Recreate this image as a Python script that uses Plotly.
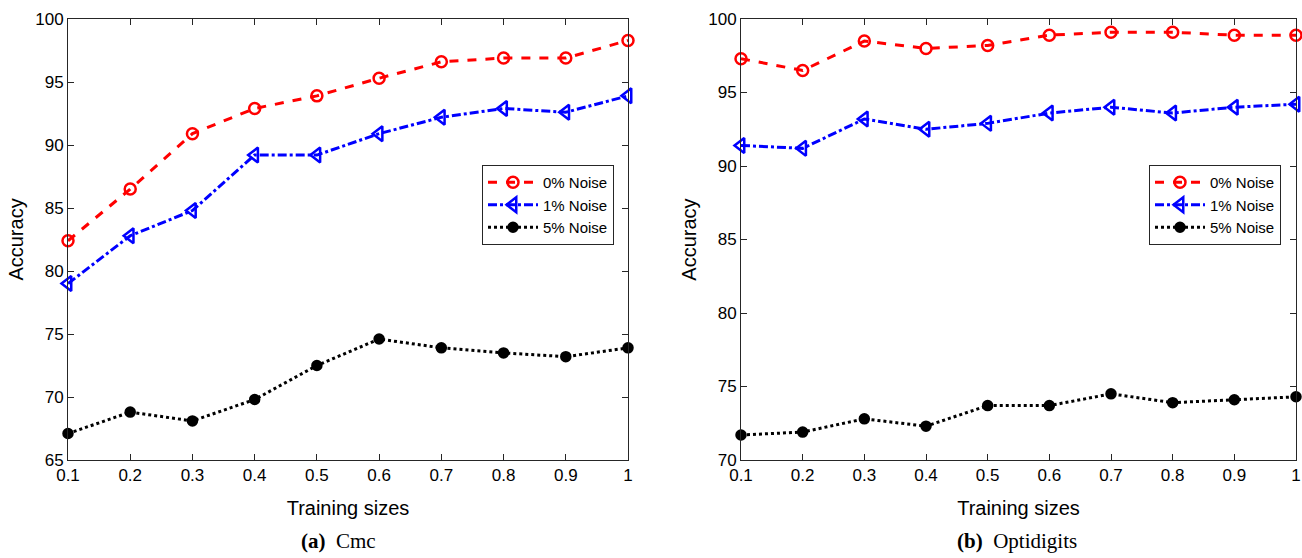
import plotly.graph_objects as go

sizes = [0.1, 0.2, 0.3, 0.4, 0.5, 0.6, 0.7, 0.8, 0.9, 1.0]
x_ticktext = ["0.1", "0.2", "0.3", "0.4", "0.5", "0.6", "0.7", "0.8", "0.9", "1"]
series_names = ["0% Noise", "1% Noise", "5% Noise"]

cmc_0 = [82.4, 86.5, 90.9, 92.9, 93.9, 95.3, 96.6, 96.9, 96.9, 98.3]
cmc_1 = [79.0, 82.8, 84.8, 89.2, 89.2, 90.9, 92.2, 92.9, 92.6, 93.9]
cmc_5 = [67.1, 68.8, 68.1, 69.8, 72.5, 74.6, 73.9, 73.5, 73.2, 73.9]

opt_0 = [97.3, 96.5, 98.5, 98.0, 98.2, 98.9, 99.1, 99.1, 98.9, 98.9]
opt_1 = [91.4, 91.2, 93.2, 92.5, 92.9, 93.6, 94.0, 93.6, 94.0, 94.2]
opt_5 = [71.7, 71.9, 72.8, 72.3, 73.7, 73.7, 74.5, 73.9, 74.1, 74.3]

styles = [
    dict(color="#ff0000", dash="dash", symbol="circle-open", size=11),
    dict(color="#0000ff", dash="dashdot", symbol="triangle-left-open", size=13),
    dict(color="#000000", dash="dot", symbol="circle", size=9),
]

fig = go.Figure()

def add(series, xa, ya, legend):
    for name, vals, st in zip(series_names, series, styles):
        fig.add_trace(go.Scatter(
            x=sizes, y=vals, name=name, mode="lines+markers",
            xaxis=xa, yaxis=ya, legend=legend, cliponaxis=False,
            line=dict(color=st["color"], dash=st["dash"], width=3),
            marker=dict(symbol=st["symbol"], size=st["size"], color=st["color"],
                        line=dict(color=st["color"], width=2.5)),
        ))

add([cmc_0, cmc_1, cmc_5], "x", "y", "legend")
add([opt_0, opt_1, opt_5], "x2", "y2", "legend2")

font_tick = dict(family="Liberation Sans, Arial", size=17, color="#000000")
font_title = dict(family="Liberation Sans, Arial", size=20, color="#000000")
axis_common = dict(
    showline=True, linecolor="#262626", linewidth=1, mirror="ticks",
    ticks="inside", ticklen=6, tickcolor="#262626", showgrid=False, zeroline=False,
    tickfont=font_tick, automargin=False,
)

W, H = 1302, 558
y_dom = [1 - 460/H, 1 - 19/H]

fig.update_layout(
    width=W, height=H,
    margin=dict(l=0, r=0, t=0, b=0),
    paper_bgcolor="white", plot_bgcolor="white",
    showlegend=True,
    xaxis=dict(domain=[68/W, 628/W], range=[0.1, 1.0], tickvals=sizes, ticktext=x_ticktext,
               anchor="y", title=dict(text="Training sizes", font=font_title, standoff=16),
               **axis_common),
    yaxis=dict(domain=y_dom, range=[65, 100], dtick=5, anchor="x",
               title=dict(text="Accuracy", font=font_title, standoff=6),
               **axis_common),
    xaxis2=dict(domain=[741/W, 1296/W], range=[0.1, 1.0], tickvals=sizes, ticktext=x_ticktext,
                anchor="y2", title=dict(text="Training sizes", font=font_title, standoff=16),
                **axis_common),
    yaxis2=dict(domain=y_dom, range=[70, 100], dtick=5, anchor="x2",
                title=dict(text="Accuracy", font=font_title, standoff=6),
                **axis_common),
    legend=dict(x=614/W, y=1 - 165/H, xanchor="right", yanchor="top",
                bgcolor="white", bordercolor="#262626", borderwidth=1,
                font=dict(family="Liberation Sans, Arial", size=15, color="#000"),
                itemwidth=50, tracegroupgap=0),
    legend2=dict(x=1281/W, y=1 - 165/H, xanchor="right", yanchor="top",
                 bgcolor="white", bordercolor="#262626", borderwidth=1,
                 font=dict(family="Liberation Sans, Arial", size=15, color="#000"),
                 itemwidth=50, tracegroupgap=0),
    annotations=[
        dict(text="<b>(a)</b>  Cmc", x=338/W, y=1 - 541/H, xref="paper", yref="paper",
             xanchor="center", yanchor="middle",
             showarrow=False, font=dict(family="Liberation Serif, DejaVu Serif", size=21, color="#000")),
        dict(text="<b>(b)</b>  Optidigits", x=1017/W, y=1 - 541/H, xref="paper", yref="paper",
             xanchor="center", yanchor="middle",
             showarrow=False, font=dict(family="Liberation Serif, DejaVu Serif", size=21, color="#000")),
    ],
)

fig.write_html("out.html", config={"displayModeBar": False},
               post_script="document.body.style.margin='0';")
